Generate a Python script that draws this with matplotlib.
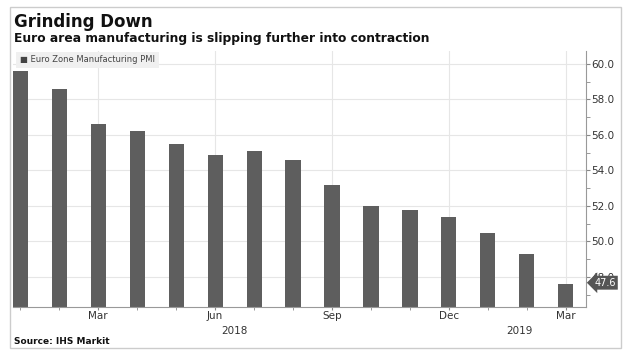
import matplotlib.pyplot as plt
from matplotlib.patches import Rectangle
import matplotlib.ticker as mticker

# datos
meses = ["Jan", "Feb", "Mar", "Apr", "May", "Jun", "Jul", "Aug", "Sep",
         "Oct", "Nov", "Dec", "Jan", "Feb", "Mar"]
pmi = [59.6, 58.6, 56.6, 56.2, 55.5, 54.9, 55.1, 54.6, 53.2,
       52.0, 51.8, 51.4, 50.5, 49.3, 47.6]
tick_idx = [2, 5, 8, 11, 14]
anios = ["2018", "2019"]
anio_pos = [5.5, 12.8]

titulo = "Grinding Down"
subtitulo = "Euro area manufacturing is slipping further into contraction"
serie = "Euro Zone Manufacturing PMI"
fuente = "Source: IHS Markit"

gris_barra = "#5e5e5e"

fig = plt.figure(figsize=(6.24, 3.55), dpi=100)
ax = fig.add_axes([13 / 624, 1 - 307 / 355, 573 / 624, 256 / 355])

x = list(range(len(pmi)))
ax.bar(x, pmi, width=0.39, color=gris_barra, zorder=2)

ax.set_ylim(46.31, 60.73)
ax.set_xlim(-0.19, 14.52)

# eje derecho
ax.yaxis.tick_right()
ax.yaxis.set_major_locator(mticker.MultipleLocator(2))
ax.yaxis.set_minor_locator(mticker.MultipleLocator(1))
ax.yaxis.set_major_formatter(mticker.FormatStrFormatter("%.1f"))
ax.tick_params(axis="y", which="both", direction="out", length=3,
               color="#888888", labelsize=7.5, labelcolor="#333333", pad=1)

ax.set_xticks(tick_idx)
ax.set_xticklabels([meses[i] for i in tick_idx])
ax.set_xticks(x, minor=True)
ax.tick_params(axis="x", which="both", direction="out", length=2,
               color="#888888", labelsize=7.5, labelcolor="#333333", pad=1)

for s in ["top", "left"]:
    ax.spines[s].set_visible(False)
ax.spines["right"].set_color("#999999")
ax.spines["bottom"].set_color("#999999")

ax.grid(True, which="major", color="#e6e6e6", linewidth=0.8, zorder=0)

for a, p in zip(anios, anio_pos):
    ax.text(p, -0.075, a, transform=ax.get_xaxis_transform(),
            ha="center", va="top", fontsize=7.5, color="#333333")

# leyenda
ax.text(0.012, 0.965, "\u25a0 " + serie, transform=ax.transAxes, fontsize=6,
        color="#444444", va="center", ha="left",
        bbox=dict(boxstyle="square,pad=0.45", fc="#f0f0f0", ec="none"))

# etiqueta del ultimo valor
ax.annotate(f"{pmi[-1]:.1f}", xy=(1.0, pmi[-1]),
            xycoords=ax.get_yaxis_transform(), xytext=(6, 1),
            textcoords="offset points", va="center", ha="left",
            fontsize=7, color="white",
            bbox=dict(boxstyle="larrow,pad=0.2", fc="#555555", ec="none"))

fig.text(0.022, 1 - 26.7 / 355, titulo, fontsize=12, fontweight="bold",
         color="#111111", va="baseline")
fig.text(0.022, 1 - 42 / 355, subtitulo, fontsize=8.8, fontweight="bold",
         color="#111111", va="baseline")
fig.text(0.022, 1 - 341 / 355, fuente, fontsize=6.5, fontweight="bold",
         color="#111111", va="center")

fig.patches.append(Rectangle((9.5 / 624, 7 / 355), 611 / 624, 341 / 355,
                             transform=fig.transFigure,
                             fill=False, ec="#cccccc", lw=1))

plt.savefig("out.png", dpi=100)
plt.close()
